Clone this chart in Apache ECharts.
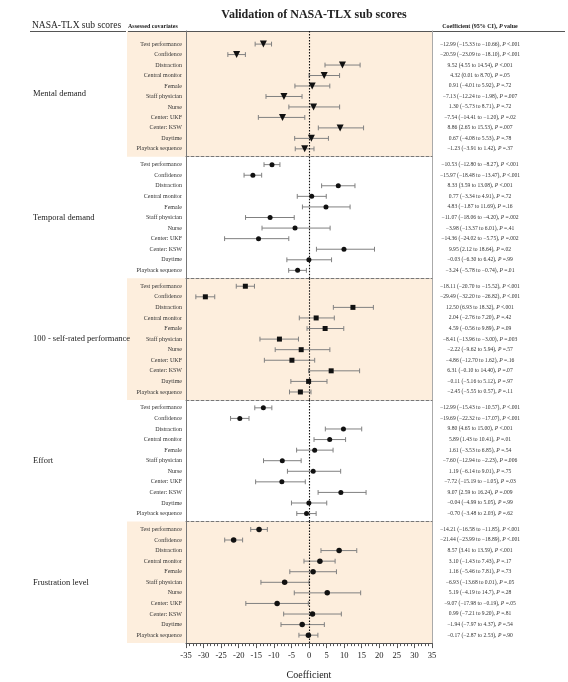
<!DOCTYPE html>
<html><head><meta charset="utf-8">
<script src="https://cdn.jsdelivr.net/npm/echarts@6/dist/echarts.min.js"></script>
<style>html,body{margin:0;padding:0;background:#fff}#chart{width:568px;height:682px}</style>
</head><body><div id="chart"></div>
<script>
const covariates = ['Test performance','Confidence','Distraction','Central monitor','Female','Staff physician','Nurse','Center: UKF','Center: KSW','Daytime','Playback sequence'];
const groupNames = ['Mental demand','Temporal demand','100 - self-rated performance','Effort','Frustration level'];
const xTicks = [-35,35,5];

const mentalCoef = ['-12.99','-20.59','9.52','4.32','0.91','-7.13','1.30','-7.54','8.86','0.67','-1.23'];
const mentalLow  = ['-15.33','-23.09','4.55','0.01','-4.01','-12.24','-5.73','-14.41','2.65','-4.08','-3.91'];
const mentalHigh = ['-10.66','-18.10','14.54','8.70','5.92','-1.98','8.71','-1.20','15.53','5.53','1.42'];
const mentalP    = ['<.001','<.001','<.001','=.05','=.72','=.007','=.72','=.02','=.007','=.78','=.37'];

const temporalCoef = ['-10.53','-15.97','8.33','0.77','4.83','-11.07','-3.98','-14.36','9.95','-0.03','-3.24'];
const temporalLow  = ['-12.80','-18.48','3.59','-3.34','-1.87','-18.06','-13.37','-24.02','2.12','-6.30','-5.78'];
const temporalHigh = ['-8.27','-13.47','13.08','4.91','11.69','-4.20','6.01','-5.75','18.64','6.42','-0.74'];
const temporalP    = ['<.001','<.001','<.001','=.72','=.16','=.002','=.41','=.002','=.02','=.99','=.01'];

const perfCoef = ['-18.11','-29.49','12.50','2.04','4.59','-8.41','-2.22','-4.86','6.31','-0.11','-2.45'];
const perfLow  = ['-20.70','-32.20','6.93','-2.76','-0.56','-13.96','-9.62','-12.70','-0.10','-5.16','-5.55'];
const perfHigh = ['-15.52','-26.82','18.32','7.20','9.89','-3.00','5.94','1.62','14.40','5.12','0.57'];
const perfP    = ['<.001','<.001','<.001','=.42','=.09','=.003','=.57','=.16','=.07','=.97','=.11'];

const effortCoef = ['-12.99','-19.69','9.80','5.89','1.61','-7.60','1.19','-7.72','9.07','-0.04','-0.70'];
const effortLow  = ['-15.43','-22.32','4.65','1.43','-3.53','-12.94','-6.14','-15.19','2.59','-4.99','-3.48'];
const effortHigh = ['-10.57','-17.07','15.00','10.41','6.85','-2.23','9.01','-1.05','16.24','5.05','2.03'];
const effortP    = ['<.001','<.001','<.001','=.01','=.54','=.006','=.75','=.03','=.009','=.99','=.62'];

const frustCoef = ['-14.21','-21.44','8.57','3.10','1.16','-6.93','5.19','-9.07','0.99','-1.94','-0.17'];
const frustLow  = ['-16.58','-23.99','3.41','-1.43','-5.46','-13.68','-4.19','-17.98','-7.21','-7.97','-2.87'];
const frustHigh = ['-11.85','-18.89','13.59','7.43','7.81','0.01','14.7','-0.19','9.20','4.37','2.53'];
const frustP    = ['<.001','<.001','<.001','=.17','=.73','=.05','=.28','=.05','=.81','=.54','=.90'];

const groups = [
  {coef: mentalCoef, low: mentalLow, high: mentalHigh, p: mentalP, symbol: 'triangle', rot: 180, size: 7},
  {coef: temporalCoef, low: temporalLow, high: temporalHigh, p: temporalP, symbol: 'circle', rot: 0, size: 5},
  {coef: perfCoef, low: perfLow, high: perfHigh, p: perfP, symbol: 'rect', rot: 0, size: 5},
  {coef: effortCoef, low: effortLow, high: effortHigh, p: effortP, symbol: 'circle', rot: 0, size: 5},
  {coef: frustCoef, low: frustLow, high: frustHigh, p: frustP, symbol: 'circle', rot: 0, size: 5.5}
];

const SERIF = "'Liberation Serif','Times New Roman',serif";
const PEACH = '#fdeedd';
const plotL = 186, plotR = 432;
const B = [31, 156.7, 278.3, 399.9, 521.5, 643.1];
const shaded = [true, false, true, false, true];
const m = s => s.replace(/-/g, '\u2212');

const grids = [], xAxes = [], yAxes = [], series = [], graphics = [];

groups.forEach((g, gi) => {
  const n = gi === 0 ? 24 : 23;
  const off = gi === 0 ? 2 : 1;
  const leftCats = new Array(n).fill('');
  const rightCats = new Array(n).fill('');
  covariates.forEach((c, r) => {
    leftCats[off + 2 * r] = c;
    rightCats[off + 2 * r] = m(g.coef[r]) + ' (' + m(g.low[r]) + ' to ' + m(g.high[r]) + '), {i|P} ' + g.p[r];
  });
  grids.push({
    left: plotL, right: 568 - plotR, top: B[gi], height: B[gi + 1] - B[gi],
    show: shaded[gi], backgroundColor: PEACH, borderWidth: 0
  });
  const last = gi === groups.length - 1;
  xAxes.push({
    type: 'value', gridIndex: gi, min: xTicks[0], max: xTicks[1], interval: xTicks[2],
    axisLine: {show: true, onZero: false, lineStyle: last ? {color: '#555', width: 1} : {color: '#777', type: [3, 2], width: 1}},
    axisTick: {show: last, length: 5, lineStyle: {color: '#555'}},
    minorTick: {show: last, splitNumber: 5, length: 3, lineStyle: {color: '#555'}},
    axisLabel: {show: last, fontFamily: SERIF, fontSize: 8.5, color: '#222', margin: 8},
    splitLine: {show: false},
    name: last ? 'Coefficient' : '', nameLocation: 'middle', nameGap: 27,
    nameTextStyle: {fontFamily: SERIF, fontSize: 10, color: '#222'}
  });
  yAxes.push({
    type: 'category', gridIndex: gi, inverse: true, data: leftCats, position: 'left',
    axisLine: {show: true, onZero: false, lineStyle: {color: '#777', width: 1}},
    axisTick: {show: false},
    axisLabel: {interval: 0, fontFamily: SERIF, fontSize: 6, color: '#333', margin: 4},
    splitLine: {show: false}
  });
  yAxes.push({
    type: 'category', gridIndex: gi, inverse: true, data: rightCats, position: 'right',
    axisLine: {show: true, onZero: false, lineStyle: {color: '#aaa', width: 1}},
    axisTick: {show: false},
    axisLabel: {interval: 0, fontFamily: SERIF, fontSize: 5.6, color: '#333', margin: 48, align: 'center',
      rich: {i: {fontFamily: SERIF, fontSize: 5.6, fontStyle: 'italic', color: '#333'}}},
    splitLine: {show: false}
  });
  const ebData = covariates.map((c, r) => [parseFloat(g.low[r]), parseFloat(g.high[r]), off + 2 * r]);
  const ptData = covariates.map((c, r) => [parseFloat(g.coef[r]), off + 2 * r]);
  series.push({
    type: 'custom', xAxisIndex: gi, yAxisIndex: gi * 2, data: ebData, encode: {x: [0, 1], y: 2}, z: 2,
    renderItem: (params, api) => {
      const yv = api.value(2);
      const a = api.coord([api.value(0), yv]);
      const b = api.coord([api.value(1), yv]);
      const h = 2.4;
      const st = {stroke: '#808080', lineWidth: 1};
      return {type: 'group', children: [
        {type: 'line', shape: {x1: a[0], y1: a[1], x2: b[0], y2: b[1]}, style: st},
        {type: 'line', shape: {x1: a[0], y1: a[1] - h, x2: a[0], y2: a[1] + h}, style: st},
        {type: 'line', shape: {x1: b[0], y1: b[1] - h, x2: b[0], y2: b[1] + h}, style: st}
      ]};
    }
  });
  series.push({
    type: 'scatter', xAxisIndex: gi, yAxisIndex: gi * 2, data: ptData, z: 5,
    symbol: g.symbol, symbolRotate: g.rot, symbolSize: g.size,
    itemStyle: {color: '#111', opacity: 1},
    markLine: {silent: true, symbol: 'none', label: {show: false},
      lineStyle: {color: '#111', type: [1.5, 1.5], width: 1.1}, data: [{xAxis: 0}]}
  });
  if (shaded[gi]) {
    graphics.push({type: 'rect', shape: {x: 127, y: B[gi], width: plotL - 127, height: B[gi + 1] - B[gi]},
      style: {fill: PEACH}, z: -10, silent: true});
  }
  graphics.push({type: 'text', x: 33, y: (B[gi] + B[gi + 1]) / 2, silent: true, z: 10,
    style: {text: groupNames[gi], fontFamily: SERIF, fontSize: 8.5, fill: '#222', align: 'left', verticalAlign: 'middle'}});
});

graphics.push(
  {type: 'text', x: 32, y: 25, silent: true,
    style: {text: 'NASA-TLX sub scores', fontFamily: SERIF, fontSize: 9.5, fill: '#222', align: 'left', verticalAlign: 'middle'}},
  {type: 'line', shape: {x1: 30, y1: 31.5, x2: 126, y2: 31.5}, style: {stroke: '#555', lineWidth: 1}, silent: true},
  {type: 'text', x: 128, y: 26.5, silent: true,
    style: {text: 'Assessed covariates', fontFamily: SERIF, fontSize: 6, fontWeight: 'bold', fill: '#222', align: 'left', verticalAlign: 'middle'}},
  {type: 'line', shape: {x1: 128, y1: 31.5, x2: 565, y2: 31.5}, style: {stroke: '#555', lineWidth: 1}, silent: true},
  {type: 'text', x: 480, y: 26.5, silent: true,
    style: {text: 'Coefficient (95% CI), {i|P} value', fontFamily: SERIF, fontSize: 6, fontWeight: 'bold', fill: '#222', align: 'center', verticalAlign: 'middle',
      rich: {i: {fontFamily: SERIF, fontSize: 6, fontWeight: 'bold', fontStyle: 'italic', fill: '#222'}}}}
);

const chart = echarts.init(document.getElementById('chart'), null, {renderer: 'canvas'});
chart.setOption({
  animation: false,
  backgroundColor: '#fff',
  textStyle: {fontFamily: SERIF},
  title: {text: 'Validation of NASA-TLX sub scores', left: 309, top: 4, textAlign: 'center',
    textStyle: {fontFamily: SERIF, fontSize: 12, fontWeight: 'bold', color: '#222'}},
  grid: grids, xAxis: xAxes, yAxis: yAxes, series: series, graphic: graphics
});
</script></body></html>
